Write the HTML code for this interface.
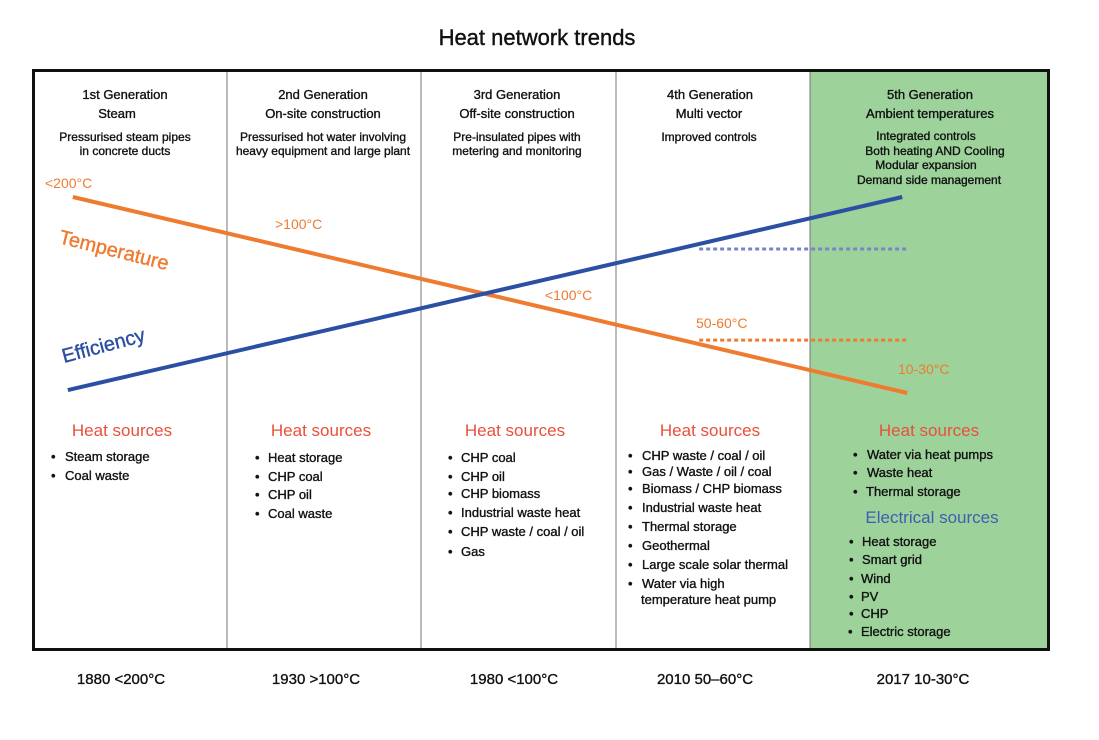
<!DOCTYPE html>
<html><head><meta charset="utf-8"><style>
html,body{margin:0;padding:0;background:#fff}
svg{display:block;font-family:"Liberation Sans",Arial,sans-serif}
.md{stroke:#111;stroke-width:0.35}
</style></head><body>
<svg id="chart" width="1099" height="740" viewBox="0 0 1099 740">
<text x="537" y="45" text-anchor="middle" font-size="22" fill="#111" stroke="#111" stroke-width="0.4">Heat network trends</text>
<rect x="810" y="71" width="238" height="579" fill="#9dd29b"/>
<g stroke="#777" stroke-width="1">
<line x1="227" y1="71" x2="227" y2="650"/><line x1="421" y1="71" x2="421" y2="650"/><line x1="616" y1="71" x2="616" y2="650"/><line x1="810" y1="71" x2="810" y2="650"/>
</g>
<rect x="33.5" y="70.5" width="1015" height="579" fill="none" stroke="#111" stroke-width="3"/>
<g font-size="13" fill="#111" text-anchor="middle" class="md">
<text x="125" y="99">1st Generation</text><text x="117" y="118">Steam</text>
<text x="125" y="141" font-size="12">Pressurised steam pipes</text><text x="125" y="155" font-size="12">in concrete ducts</text>
<text x="323" y="99">2nd Generation</text><text x="323" y="118">On-site construction</text>
<text x="323" y="141" font-size="12">Pressurised hot water involving</text><text x="323" y="155" font-size="12">heavy equipment and large plant</text>
<text x="517" y="99">3rd Generation</text><text x="517" y="118">Off-site construction</text>
<text x="517" y="141" font-size="12">Pre-insulated pipes with</text><text x="517" y="155" font-size="12">metering and monitoring</text>
<text x="710" y="99">4th Generation</text><text x="709" y="118">Multi vector</text>
<text x="709" y="141" font-size="12">Improved controls</text>
<text x="930" y="99">5th Generation</text><text x="930" y="118">Ambient temperatures</text>
<text x="926" y="140" font-size="12">Integrated controls</text><text x="935" y="155" font-size="12">Both heating AND Cooling</text>
<text x="926" y="169" font-size="12">Modular expansion</text><text x="929" y="184" font-size="12">Demand side management</text>
</g>
<g id="lines"></g>
<g font-size="14" fill="#ef7b30">
<text x="45" y="188">&lt;200°C</text><text x="275" y="229">&gt;100°C</text><text x="545" y="300">&lt;100°C</text><text x="696" y="328">50-60°C</text><text x="898" y="374">10-30°C</text>
</g>
<text x="58" y="243" font-size="20" fill="#ef7b30" stroke="#ef7b30" stroke-width="0.4" transform="rotate(14 58 243)">Temperature</text>
<text x="64" y="363" font-size="20" fill="#2a4fa3" stroke="#2a4fa3" stroke-width="0.4" transform="rotate(-15 64 363)">Efficiency</text>
<g font-size="17" text-anchor="middle">
<text x="122" y="436" fill="#e8503a">Heat sources</text><text x="321" y="436" fill="#e8503a">Heat sources</text>
<text x="515" y="436" fill="#e8503a">Heat sources</text><text x="710" y="436" fill="#e8503a">Heat sources</text>
<text x="929" y="436" fill="#e8503a">Heat sources</text><text x="932" y="523" fill="#3f5fb0">Electrical sources</text>
</g>
<g font-size="13" fill="#111" class="md">
<text x="51" y="461">•</text><text x="65" y="461">Steam storage</text>
<text x="51" y="480">•</text><text x="65" y="480">Coal waste</text>
<text x="255" y="462">•</text><text x="268" y="462">Heat storage</text>
<text x="255" y="481">•</text><text x="268" y="481">CHP coal</text>
<text x="255" y="499">•</text><text x="268" y="499">CHP oil</text>
<text x="255" y="518">•</text><text x="268" y="518">Coal waste</text>
<text x="448" y="462">•</text><text x="461" y="462">CHP coal</text>
<text x="448" y="481">•</text><text x="461" y="481">CHP oil</text>
<text x="448" y="498">•</text><text x="461" y="498">CHP biomass</text>
<text x="448" y="517">•</text><text x="461" y="517">Industrial waste heat</text>
<text x="448" y="536">•</text><text x="461" y="536">CHP waste / coal / oil</text>
<text x="448" y="556">•</text><text x="461" y="556">Gas</text>
<text x="628" y="460">•</text><text x="642" y="460">CHP waste / coal / oil</text>
<text x="628" y="476">•</text><text x="642" y="476">Gas / Waste / oil / coal</text>
<text x="628" y="493">•</text><text x="642" y="493">Biomass / CHP biomass</text>
<text x="628" y="512">•</text><text x="642" y="512">Industrial waste heat</text>
<text x="628" y="531">•</text><text x="642" y="531">Thermal storage</text>
<text x="628" y="550">•</text><text x="642" y="550">Geothermal</text>
<text x="628" y="569">•</text><text x="642" y="569">Large scale solar thermal</text>
<text x="628" y="588">•</text><text x="642" y="588">Water via high</text>
<text x="641" y="604">temperature heat pump</text>
<text x="853" y="459">•</text><text x="867" y="459">Water via heat pumps</text>
<text x="853" y="477">•</text><text x="867" y="477">Waste heat</text>
<text x="853" y="496">•</text><text x="866" y="496">Thermal storage</text>
<text x="849" y="546">•</text><text x="862" y="546">Heat storage</text>
<text x="849" y="564">•</text><text x="862" y="564">Smart grid</text>
<text x="849" y="583">•</text><text x="861" y="583">Wind</text>
<text x="849" y="601">•</text><text x="861" y="601">PV</text>
<text x="849" y="618">•</text><text x="861" y="618">CHP</text>
<text x="848" y="636">•</text><text x="861" y="636">Electric storage</text>
</g>
<g id="xlabels" font-size="15" fill="#111" class="md" text-anchor="middle"></g>
</svg>
<script>
const periodLabels = ["1880 <200°C","1930 >100°C","1980 <100°C","2010 50–60°C","2017 10-30°C"];
const lineX = [0.21, 4.5];
const temperatureValues = [100, 0];
const efficiencyValues = [1.5, 100];
const dottedEfficiency = 73.5;
const dottedTemperature = 27;
const dottedStart = 3.43;
const NS = "http://www.w3.org/2000/svg";
function xPos(i){ return 32 + i*194.5; }
function yPos(v){ return 393 - v*1.96; }
const lg = document.getElementById('lines');
function mk(tag, attrs){ const e=document.createElementNS(NS,tag); for(const k in attrs) e.setAttribute(k,attrs[k]); return e; }
const t = mk('line',{x1:xPos(lineX[0]),y1:yPos(temperatureValues[0]),x2:xPos(lineX[1]),y2:yPos(temperatureValues[1]),stroke:'#ef7b30','stroke-width':4});


lg.appendChild(t);
const e = mk('line',{x1:xPos(lineX[0])-5,y1:yPos(efficiencyValues[0]),x2:xPos(lineX[1])-5,y2:yPos(efficiencyValues[1]),stroke:'#2a4fa3','stroke-width':4});


lg.appendChild(e);
const de = mk('line',{x1:xPos(dottedStart),y1:yPos(dottedEfficiency),x2:xPos(lineX[1]),y2:yPos(dottedEfficiency),stroke:'#7a84c8','stroke-width':3,'stroke-dasharray':'4 3'});


lg.appendChild(de);
const dt = mk('line',{x1:xPos(dottedStart),y1:yPos(dottedTemperature),x2:xPos(lineX[1]),y2:yPos(dottedTemperature),stroke:'#ef7b30','stroke-width':3,'stroke-dasharray':'4 3'});


lg.appendChild(dt);
const xl = document.getElementById('xlabels');
const centers = [121, 316, 514, 705, 923];
periodLabels.forEach((s,i)=>{
  const tx = mk('text',{x:centers[i],y:684});
  tx.textContent = s;
  
  
  xl.appendChild(tx);
});
</script>
</body></html>
